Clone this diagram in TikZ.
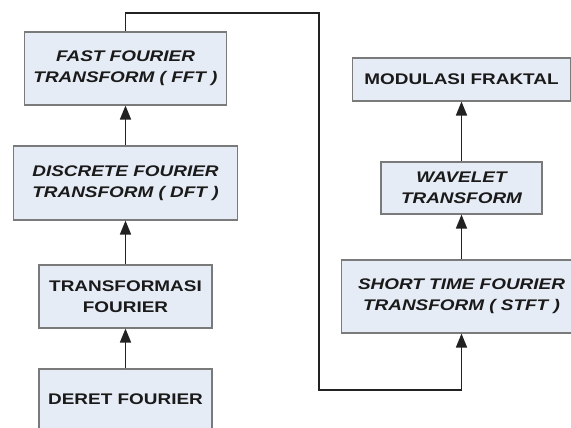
\documentclass[tikz,border=0pt]{standalone}
\usepackage{fontspec}
\newfontfamily\lab{Liberation Sans}[FakeStretch=1.23]
\usetikzlibrary{arrows.meta}
\definecolor{boxfill}{HTML}{E6ECF6}
\definecolor{boxline}{HTML}{7A7A7A}
\definecolor{ink}{HTML}{1A1A1A}
\definecolor{wire}{HTML}{222222}
\begin{document}
\begin{tikzpicture}[x=1pt,y=1pt,
  box/.style={draw=boxline, fill=boxfill, line width=1.1pt, inner sep=0pt, align=center,
    text=ink, font=\lab\fontsize{15.4}{20.7}\selectfont\bfseries},
  ibox/.style={box, font=\lab\fontsize{15.4}{20.7}\selectfont\bfseries\itshape},
  conn/.style={draw=wire, line width=1.7pt},
  arr/.style={conn, -{Triangle[length=14pt,width=11pt]}}]
\useasboundingbox (0,0) rectangle (571,-428);
\clip (0,0) rectangle (571,-428);
% left column
\node[ibox, minimum width=202pt, minimum height=73pt] (fft) at (125.5,-68.5) {FAST FOURIER\\TRANSFORM ( FFT )};
\node[ibox, minimum width=224pt, minimum height=74pt] (dft) at (125.5,-183) {DISCRETE FOURIER\\TRANSFORM ( DFT )};
\node[box, minimum width=173pt, minimum height=63pt] (tf) at (125.5,-296.5) {TRANSFORMASI\\FOURIER};
\node[box, minimum width=173pt, minimum height=60pt] (deret) at (125.5,-399) {DERET FOURIER};
% right column
\node[box, minimum width=218pt, minimum height=43pt] (mod) at (461.5,-79.5) {MODULASI FRAKTAL};
\node[ibox, minimum width=161pt, minimum height=52pt] (wav) at (461.5,-188) {WAVELET\\TRANSFORM};
\node[ibox, minimum width=240pt, minimum height=73pt] (stft) at (461.5,-296.5) {SHORT TIME FOURIER\\TRANSFORM ( STFT )};
% connectors
\draw[arr] (deret.north) -- (tf.south);
\draw[arr] (tf.north) -- (dft.south);
\draw[arr] (dft.north) -- (fft.south);
\draw[arr] (stft.north) -- (wav.south);
\draw[arr] (wav.north) -- (mod.south);
\coordinate (p1) at (125.5,-13);
\coordinate (p2) at (319,-13);
\coordinate (p3) at (319,-390);
\coordinate (p4) at (461.5,-390);
\draw[arr] (fft.north) -- (p1) -- (p2) -- (p3) -- (p4) -- (stft.south);
\end{tikzpicture}
\end{document}
